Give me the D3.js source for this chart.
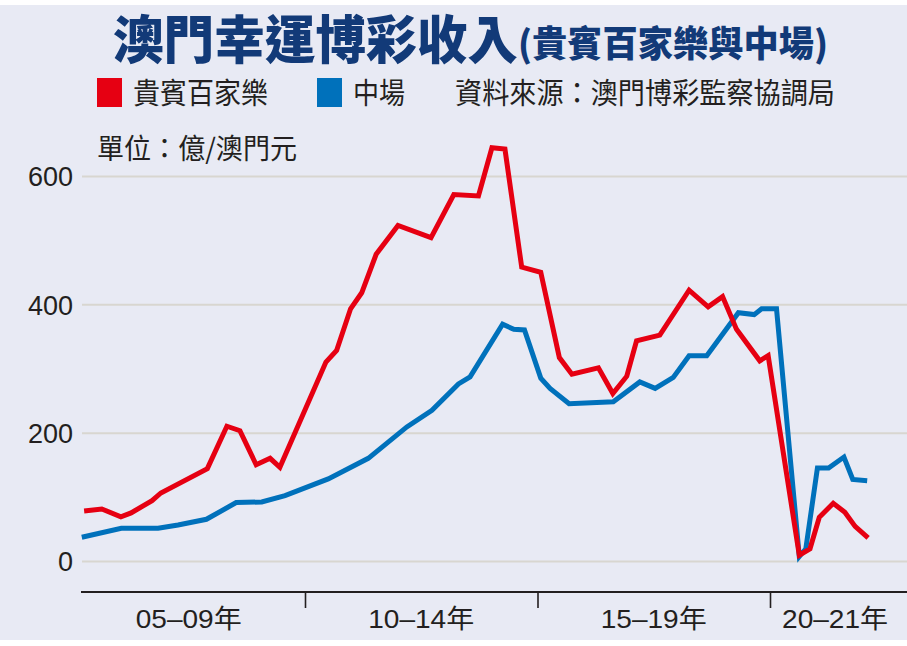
<!DOCTYPE html>
<html><head><meta charset="utf-8">
<script src="https://cdn.jsdelivr.net/npm/d3@7"></script>
<style>
html,body{margin:0;padding:0;background:#fff;}
svg{display:block;}
</style></head>
<body>
<svg id="chart" width="907" height="646"></svg>
<script>
// ---- data (億澳門元), time as decimal year ----
const vipTimes  = [2005.25,2005.63,2006.04,2006.26,2006.71,2006.90,2007.90,2008.32,2008.60,2008.95,2009.25,2009.46,2010.45,2010.68,2010.98,2011.22,2011.53,2012.00,2012.71,2013.20,2013.73,2014.02,2014.30,2014.66,2015.07,2015.47,2015.74,2016.31,2016.62,2016.92,2017.13,2017.63,2018.26,2018.67,2018.98,2019.28,2019.78,2019.96,2020.63,2020.86,2021.06,2021.36,2021.61,2021.83,2022.11];
const vipValues = [78,81,69,75,94,106,144,210,203,150,160,146,310,328,393,418,478,523,504,571,569,644,642,458,450,317,291,301,261,288,343,352,422,396,412,361,312,320,9,19,68,90,76,54,36];
const massTimes  = [2005.20,2006.05,2006.84,2007.27,2007.88,2008.52,2009.07,2009.57,2010.50,2011.36,2012.19,2012.73,2013.30,2013.55,2014.25,2014.49,2014.72,2015.07,2015.27,2015.68,2016.63,2017.20,2017.53,2017.92,2018.26,2018.64,2019.32,2019.66,2019.82,2020.14,2020.63,2020.77,2021.02,2021.26,2021.59,2021.78,2022.09];
const massValues = [37,51,51,56,65,91,92,102,128,160,209,235,276,287,369,361,360,285,269,245,248,279,269,286,320,320,387,384,393,393,7,19,145,145,162,127,125];
const yTicks = [0,200,400,600];
const periodBreaks = [2010,2015,2020];
const periodLabels = ["05–09年","10–14年","15–19年","20–21年"];
const periodCenters = [2007.5,2012.5,2017.5,2021.4];
const seriesNames = ["貴賓百家樂","中場"];
const seriesColors = ["#e60012","#0071bb"];
const titleMain = "澳門幸運博彩收入";
const titleSub = "(貴賓百家樂與中場)";
const sourceText = "資料來源：澳門博彩監察協調局";
const unitText = "單位：億/澳門元";

const svg = d3.select("#chart");
const W = 907, H = 646;
const CJK = "'Noto Sans CJK TC','Noto Sans CJK SC',sans-serif";
const NUM = "'Liberation Sans',Arial,'Noto Sans CJK TC',sans-serif";

// background
svg.append("rect").attr("x",0).attr("y",5).attr("width",W).attr("height",635).attr("fill","#e8eaf4");

const x = d3.scaleLinear().domain([2005,2020]).range([72.5,770]);
const y = d3.scaleLinear().domain([0,600]).range([561,176]);

// y grid + labels
const yAxis = d3.axisLeft(y).tickValues(yTicks).tickSize(-(W-82)).tickPadding(9).tickFormat(d3.format("d"));
const gy = svg.append("g").attr("transform","translate(82,0)").call(yAxis);
gy.select(".domain").remove();
gy.selectAll(".tick line").attr("stroke","#d8d6d0").attr("stroke-width",2);
gy.selectAll(".tick text").attr("font-family",NUM).attr("font-size",27).attr("fill","#231f20").attr("dy","0.36em");

// x axis
const axisY = 592;
svg.append("line").attr("x1",81).attr("x2",W).attr("y1",axisY).attr("y2",axisY).attr("stroke","#231f20").attr("stroke-width",2.2);
const xAxis = d3.axisBottom(x).tickValues(periodBreaks).tickSize(16).tickFormat("");
const gx = svg.append("g").attr("transform",`translate(0,${axisY})`).call(xAxis);
gx.select(".domain").remove();
gx.selectAll(".tick line").attr("stroke","#231f20").attr("stroke-width",1.6);
svg.append("g").selectAll("text").data(periodLabels).join("text")
  .attr("x",(d,i)=>x(periodCenters[i])).attr("y",628)
  .attr("text-anchor","middle").attr("font-family",NUM).attr("font-size",26)
  .attr("fill","#231f20").attr("textLength",106).attr("lengthAdjust","spacingAndGlyphs")
  .text(d=>d);

// lines
const line = d3.line().x(d=>x(d[0])).y(d=>y(d[1]));
const vip = vipTimes.map((t,i)=>[t,vipValues[i]]);
const mass = massTimes.map((t,i)=>[t,massValues[i]]);
svg.append("path").datum(mass).attr("d",line).attr("fill","none").attr("stroke",seriesColors[1]).attr("stroke-width",5).attr("stroke-linejoin","miter");
svg.append("path").datum(vip).attr("d",line).attr("fill","none").attr("stroke",seriesColors[0]).attr("stroke-width",5).attr("stroke-linejoin","miter");

// title
svg.append("text").attr("x",113).attr("y",59).attr("font-family",CJK).attr("font-weight",900)
  .attr("font-size",52).attr("fill","#123a78").attr("textLength",405).attr("lengthAdjust","spacingAndGlyphs").text(titleMain);
svg.append("text").attr("x",518).attr("y",57).attr("font-family",CJK).attr("font-weight",900)
  .attr("font-size",36).attr("fill","#123a78").attr("textLength",310).attr("lengthAdjust","spacingAndGlyphs").text(titleSub);

// legend
const legX = [97,317];
const legTextW = [135,52];
seriesNames.forEach((n,i)=>{
  svg.append("rect").attr("x",legX[i]).attr("y",78).attr("width",25).attr("height",29).attr("fill",seriesColors[i]);
  svg.append("text").attr("x",legX[i]+36).attr("y",104).attr("font-family",CJK).attr("font-size",29)
    .attr("fill","#231f20").attr("textLength",legTextW[i]).attr("lengthAdjust","spacingAndGlyphs").text(n);
});
svg.append("text").attr("x",455).attr("y",104).attr("font-family",CJK).attr("font-size",29)
  .attr("fill","#231f20").attr("textLength",380).attr("lengthAdjust","spacingAndGlyphs").text(sourceText);
svg.append("text").attr("x",97).attr("y",159).attr("font-family",CJK).attr("font-size",28)
  .attr("fill","#231f20").attr("textLength",200).attr("lengthAdjust","spacingAndGlyphs").text(unitText);
</script>
</body></html>
